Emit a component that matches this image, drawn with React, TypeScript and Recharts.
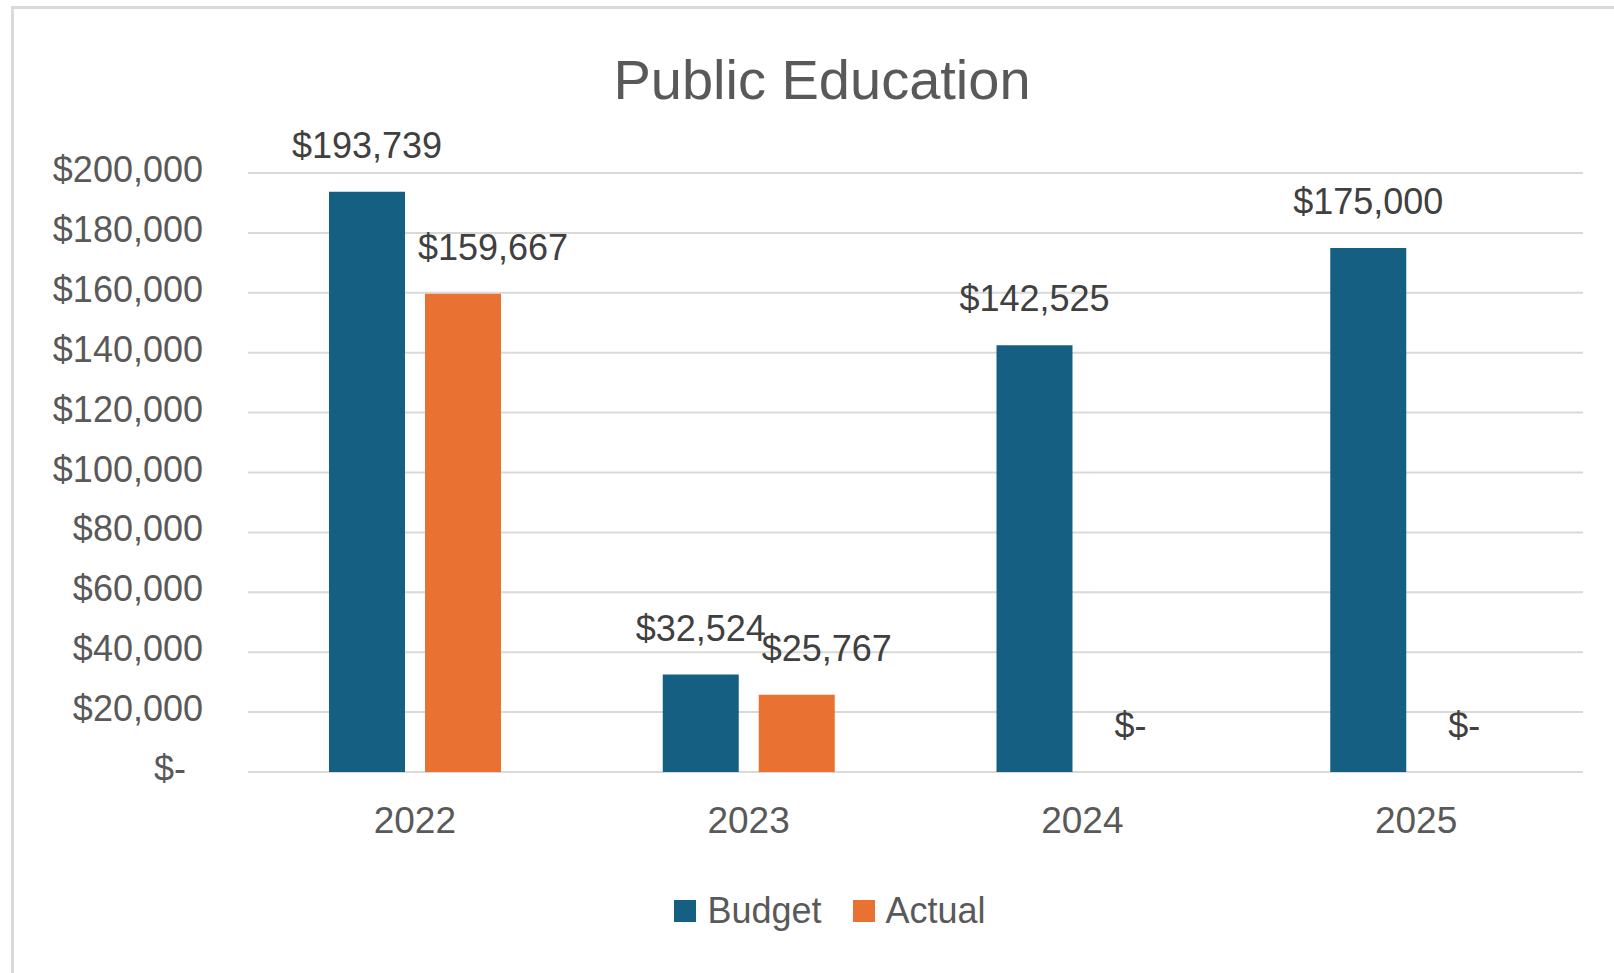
import { BarChart, Bar, XAxis, YAxis, CartesianGrid, Legend, LabelList } from 'recharts'

const years = ['2022', '2023', '2024', '2025']
const budget = [193739, 32524, 142525, 175000]
const actual = [159667, 25767, 0, 0]
const yTicks = [0, 20000, 40000, 60000, 80000, 100000, 120000, 140000, 160000, 180000, 200000]

const seriesNames = { budget: 'Budget', actual: 'Actual' }
const BLUE = '#156082'
const ORANGE = '#E97132'
const GRID = '#D9D9D9'
const FONT = '"Liberation Sans", Arial, sans-serif'

const data = years.map((year, i) => ({ year, budget: budget[i], actual: actual[i] }))

const money = (v: number) => (v === 0 ? '$-' : '$' + v.toLocaleString('en-US'))

// zero-height bars get no label otherwise; keep them a hair tall so "$-" shows
const keepZero = (v: any) => (Number(v) === 0 ? 0.01 : 0)

function YTick(props: any) {
  const { x, y, payload } = props
  const v = Number(payload.value)
  // accounting format pads the zero dash on the right
  return (
    <text x={v === 0 ? x - 17 : x} y={y} dy={9} textAnchor="end" fill="#595959" fontSize={36} fontFamily={FONT}>
      {money(v)}
    </text>
  )
}

function makeLabel(shift: number) {
  return (props: any) => {
    const { x, y, width, value } = props
    const v = Number(value ?? 0)
    const dx = v > 0 ? shift : 0
    return (
      <text
        x={Number(x) + Number(width) / 2 + dx}
        y={Number(y) - 34}
        textAnchor="middle"
        fill="#404040"
        fontSize={36}
        fontFamily={FONT}
      >
        {money(v)}
      </text>
    )
  }
}

function LegendBox() {
  const items = [
    { name: seriesNames.budget, color: BLUE },
    { name: seriesNames.actual, color: ORANGE },
  ]
  return (
    <div
      style={{
        height: 121,
        display: 'flex',
        alignItems: 'center',
        justifyContent: 'center',
        paddingLeft: 77,
        paddingBottom: 4,
        boxSizing: 'border-box',
        fontFamily: FONT,
        fontSize: 36,
        color: '#595959',
      }}
    >
      {items.map((it, i) => (
        <div key={it.name} style={{ display: 'flex', alignItems: 'center', marginLeft: i ? 31 : 0 }}>
          <span style={{ width: 22, height: 22, background: it.color, display: 'inline-block', marginRight: 11 }} />
          <span style={{ lineHeight: '36px' }}>{it.name}</span>
        </div>
      ))}
    </div>
  )
}

export default function App() {
  return (
    <div style={{ position: 'fixed', inset: 0, overflow: 'hidden', background: '#fff' }}>
      <div
        style={{
          position: 'absolute',
          left: 11,
          top: 6,
          width: 1700,
          height: 1100,
          border: `3px solid ${GRID}`,
        }}
      />
      <div
        style={{
          position: 'absolute',
          left: 822,
          top: 52,
          transform: 'translateX(-50%)',
          fontFamily: FONT,
          fontSize: 56,
          lineHeight: '56px',
          color: '#595959',
          whiteSpace: 'nowrap',
        }}
      >
        Public Education
      </div>
      <div style={{ position: 'absolute', left: 0, top: 0 }}>
        <BarChart
          width={1614}
          height={973}
          data={data}
          margin={{ top: 173, right: 31, bottom: 0, left: 0 }}
          barSize={76}
          barGap={20}
        >
          <CartesianGrid vertical={false} stroke={GRID} strokeWidth={2} />
          <XAxis
            dataKey="year"
            axisLine={false}
            tickLine={false}
            height={80}
            tickMargin={29}
            tick={{ fill: '#595959', fontSize: 37, fontFamily: FONT }}
          />
          <YAxis
            domain={[0, 200000]}
            ticks={yTicks}
            interval={0}
            width={248}
            axisLine={false}
            tickLine={false}
            tickMargin={39}
            tick={<YTick />}
          />
          <Legend verticalAlign="bottom" content={() => <LegendBox />} />
          <Bar dataKey="budget" name={seriesNames.budget} fill={BLUE} isAnimationActive={false}>
            <LabelList dataKey="budget" content={makeLabel(0)} />
          </Bar>
          <Bar
            dataKey="actual"
            name={seriesNames.actual}
            fill={ORANGE}
            minPointSize={keepZero}
            isAnimationActive={false}
          >
            <LabelList dataKey="actual" content={makeLabel(30)} />
          </Bar>
        </BarChart>
      </div>
    </div>
  )
}
